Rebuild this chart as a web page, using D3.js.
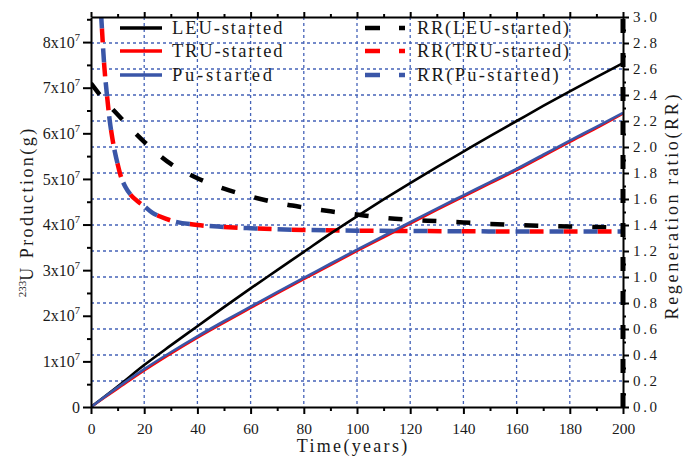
<!DOCTYPE html>
<html>
<head>
<meta charset="utf-8">
<script src="https://cdn.jsdelivr.net/npm/d3@7/dist/d3.min.js"></script>
<style>
  html, body { margin: 0; padding: 0; background: #fff; }
  svg { display: block; }
</style>
</head>
<body>
<svg id="chart" width="683" height="459"></svg>
<script>
// ---- data ----
// 233U production (units of 1e7 g) sampled every 10 years
const years = [0, 10, 20, 30, 40, 50, 60, 70, 80, 90, 100, 110, 120, 130, 140, 150, 160, 170, 180, 190, 200];
const prodLEU = [0, 0.45, 0.92, 1.35, 1.77, 2.19, 2.60, 3.00, 3.40, 3.80, 4.18, 4.55, 4.91, 5.26, 5.60, 5.94, 6.27, 6.60, 6.92, 7.23, 7.54];
const prodTRU = [0, 0.40, 0.80, 1.17, 1.52, 1.85, 2.17, 2.49, 2.80, 3.11, 3.42, 3.72, 4.02, 4.32, 4.61, 4.90, 5.19, 5.50, 5.81, 6.11, 6.43];
const prodPu  = [0, 0.43, 0.83, 1.20, 1.55, 1.88, 2.20, 2.52, 2.83, 3.14, 3.45, 3.75, 4.05, 4.35, 4.64, 4.93, 5.22, 5.53, 5.84, 6.14, 6.45];

// Regeneration ratio
const rrYearsLEU = [0, 5, 10, 20, 30, 40, 50, 60, 70, 80, 90, 100, 110, 120, 130, 140, 150, 160, 170, 180, 190, 200];
const rrLEU = [2.49, 2.36, 2.25, 2.04, 1.87, 1.76, 1.68, 1.62, 1.57, 1.535, 1.505, 1.48, 1.455, 1.44, 1.43, 1.42, 1.408, 1.40, 1.393, 1.388, 1.385, 1.38];
const rrYearsFast = [3.8, 4, 5, 6, 7, 8, 9, 10, 11, 13, 15, 18, 20, 23, 26, 30, 40, 50, 60, 80, 100, 120, 140, 160, 180, 200];
const rrTRU = [3.02, 2.95, 2.62, 2.40, 2.21, 2.07, 1.96, 1.87, 1.79, 1.69, 1.63, 1.575, 1.545, 1.495, 1.465, 1.435, 1.40, 1.385, 1.375, 1.362, 1.356, 1.354, 1.352, 1.35, 1.35, 1.35];
const rrPu  = [3.02, 2.95, 2.62, 2.40, 2.21, 2.07, 1.96, 1.87, 1.79, 1.69, 1.63, 1.575, 1.545, 1.495, 1.465, 1.435, 1.40, 1.385, 1.375, 1.362, 1.356, 1.354, 1.352, 1.35, 1.35, 1.35];

// ticks
const xTicks = [0, 20, 40, 60, 80, 100, 120, 140, 160, 180, 200];
const xMinor = [10, 30, 50, 70, 90, 110, 130, 150, 170, 190];
const leftTicks = [0, 1, 2, 3, 4, 5, 6, 7, 8];
const leftMinor = [0.5, 1.5, 2.5, 3.5, 4.5, 5.5, 6.5, 7.5, 8.5];
const rightTicks = [0, 0.2, 0.4, 0.6, 0.8, 1.0, 1.2, 1.4, 1.6, 1.8, 2.0, 2.2, 2.4, 2.6, 2.8, 3.0];
const rightMinor = [0.1, 0.3, 0.5, 0.7, 0.9, 1.1, 1.3, 1.5, 1.7, 1.9, 2.1, 2.3, 2.5, 2.7, 2.9];

const legendLeft = ["LEU-started", "TRU-started", "Pu-started"];
const legendRight = ["RR(LEU-started)", "RR(TRU-started)", "RR(Pu-started)"];

// ---- layout ----
const serif = "'Liberation Serif', 'DejaVu Serif', serif";
const CH = 10.4;            // per-character advance for the wide text style
const L = 91, R = 623, T = 17, B = 407;
const BLUE = "#3a56a8", RED = "#ff0000", GRID = "#4563b8", INK = "#1a1a1a";

const svg = d3.select("#chart");
const x = d3.scaleLinear().domain([0, 200]).range([L, R]);
const yL = d3.scaleLinear().domain([0, 8.55]).range([B, T]);
const yR = d3.scaleLinear().domain([0, 3]).range([B, T]);

// wide, evenly spaced serif text
function wide(sel, str, size) {
  sel.attr("font-family", serif).attr("font-size", size).attr("fill", INK)
    .attr("textLength", str.length * CH - 4).attr("lengthAdjust", "spacing").text(str);
  return sel;
}

svg.append("defs").append("clipPath").attr("id", "plot")
  .append("rect").attr("x", L).attr("y", T).attr("width", R - L).attr("height", B - T);

// grid
const grid = svg.append("g").attr("stroke", GRID).attr("stroke-width", 1.3).attr("stroke-dasharray", "3,3");
grid.selectAll("line.h").data(rightTicks.filter(v => v > 0 && v < 3)).join("line")
  .attr("x1", L).attr("x2", R).attr("y1", d => yR(d)).attr("y2", d => yR(d));
grid.selectAll("line.v").data(xTicks.filter(v => v > 0 && v < 200)).join("line")
  .attr("y1", T).attr("y2", B).attr("x1", d => x(d)).attr("x2", d => x(d));

// lines
const plot = svg.append("g").attr("clip-path", "url(#plot)").attr("fill", "none");
const lineL = (xs, ys) => d3.line().x((d, i) => x(xs[i])).y(d => yL(d)).curve(d3.curveMonotoneX)(ys);
const lineR = (xs, ys) => d3.line().x((d, i) => x(xs[i])).y(d => yR(d)).curve(d3.curveMonotoneX)(ys);

plot.append("path").attr("d", lineR(rrYearsLEU, rrLEU)).attr("stroke", "#000").attr("stroke-width", 4.5).attr("stroke-dasharray", "14,20");
plot.append("path").attr("d", lineR(rrYearsFast, rrTRU)).attr("stroke", RED).attr("stroke-width", 4.5).attr("stroke-dasharray", "14,20").attr("stroke-dashoffset", 20);
plot.append("path").attr("d", lineR(rrYearsFast, rrPu)).attr("stroke", BLUE).attr("stroke-width", 4.5).attr("stroke-dasharray", "14,20");

plot.append("path").attr("d", lineL(years, prodLEU)).attr("stroke", "#000").attr("stroke-width", 2.6);
plot.append("path").attr("d", lineL(years, prodTRU)).attr("stroke", RED).attr("stroke-width", 2.4);
plot.append("path").attr("d", lineL(years, prodPu)).attr("stroke", BLUE).attr("stroke-width", 2.6);

// axes
function styleAxis(g) {
  g.select(".domain").attr("stroke", "#000").attr("stroke-width", 2);
  g.selectAll(".tick line").attr("stroke", "#000").attr("stroke-width", 2);
}
const gb = svg.append("g").attr("transform", `translate(0,${B})`)
  .call(d3.axisBottom(x).tickValues(xTicks).tickSize(7).tickPadding(9).tickSizeOuter(0));
styleAxis(gb);
gb.selectAll("text").attr("font-family", serif).attr("font-size", 15.5).attr("fill", INK);
svg.append("g").attr("transform", `translate(0,${B})`)
  .call(d3.axisBottom(x).tickValues(xMinor).tickSize(4).tickFormat("").tickSizeOuter(0))
  .call(styleAxis).select(".domain").remove();

const gt = svg.append("g").attr("transform", `translate(0,${T})`)
  .call(d3.axisTop(x).tickValues(xTicks).tickSize(5).tickFormat("").tickSizeOuter(0));
styleAxis(gt);
svg.append("g").attr("transform", `translate(0,${T})`)
  .call(d3.axisTop(x).tickValues(xMinor).tickSize(3).tickFormat("").tickSizeOuter(0))
  .call(styleAxis).select(".domain").remove();

const gl = svg.append("g").attr("transform", `translate(${L},0)`)
  .call(d3.axisLeft(yL).tickValues(leftTicks).tickSize(8).tickPadding(3).tickSizeOuter(0));
styleAxis(gl);
gl.selectAll(".tick text").each(function(d) {
  const t = d3.select(this).text("").attr("font-family", serif).attr("font-size", 16).attr("fill", INK);
  if (d === 0) { t.text("0"); return; }
  t.append("tspan").text(d + "x10");
  t.append("tspan").attr("dy", -7).attr("font-size", 10.5).text("7");
});
svg.append("g").attr("transform", `translate(${L},0)`)
  .call(d3.axisLeft(yL).tickValues(leftMinor).tickSize(4).tickFormat("").tickSizeOuter(0))
  .call(styleAxis).select(".domain").remove();

const gr = svg.append("g").attr("transform", `translate(${R},0)`)
  .call(d3.axisRight(yR).tickValues(rightTicks).tickSize(6).tickPadding(4).tickFormat(d3.format(".1f")).tickSizeOuter(0));
styleAxis(gr);
gr.selectAll("text").attr("font-family", serif).attr("font-size", 15).attr("fill", INK)
  .attr("textLength", 24).attr("lengthAdjust", "spacing");
svg.append("g").attr("transform", `translate(${R},0)`)
  .call(d3.axisRight(yR).tickValues(rightMinor).tickSize(3).tickFormat("").tickSizeOuter(0))
  .call(styleAxis).select(".domain").remove();
// heavy dashed spine on the RR axis
svg.append("line").attr("x1", R).attr("x2", R).attr("y1", B).attr("y2", T)
  .attr("stroke", "#000").attr("stroke-width", 5).attr("stroke-dasharray", "14,20");

// axis titles
wide(svg.append("text").attr("x", 352).attr("y", 452).attr("text-anchor", "middle"), "Time(years)", 18);
const yt = svg.append("text").attr("transform", "translate(33,213) rotate(-90)").attr("text-anchor", "middle")
  .attr("font-family", serif).attr("font-size", 18).attr("fill", INK);
yt.append("tspan").attr("font-size", 11).attr("dy", -7).text("233");
yt.append("tspan").attr("dy", 7).attr("textLength", 15 * CH - 4).attr("lengthAdjust", "spacing").text("U Production(g)");
wide(svg.append("text").attr("transform", "translate(678,207) rotate(-90)").attr("text-anchor", "middle"),
  "Regeneration ratio(RR)", 18);

// legend
const legRows = [28, 51, 75];
const solidColors = ["#000", RED, BLUE];
const leg = svg.append("g");
legendLeft.forEach((name, i) => {
  leg.append("line").attr("x1", 120).attr("x2", 162).attr("y1", legRows[i]).attr("y2", legRows[i])
    .attr("stroke", solidColors[i]).attr("stroke-width", 3.3);
  wide(leg.append("text").attr("x", 172).attr("y", legRows[i] + 6), name, 18.5);
});
legendRight.forEach((name, i) => {
  leg.append("line").attr("x1", 365).attr("x2", 405).attr("y1", legRows[i]).attr("y2", legRows[i])
    .attr("stroke", solidColors[i]).attr("stroke-width", 4.5).attr("stroke-dasharray", "15,19");
  wide(leg.append("text").attr("x", 417).attr("y", legRows[i] + 6), name, 18.5);
});
</script>
</body>
</html>
